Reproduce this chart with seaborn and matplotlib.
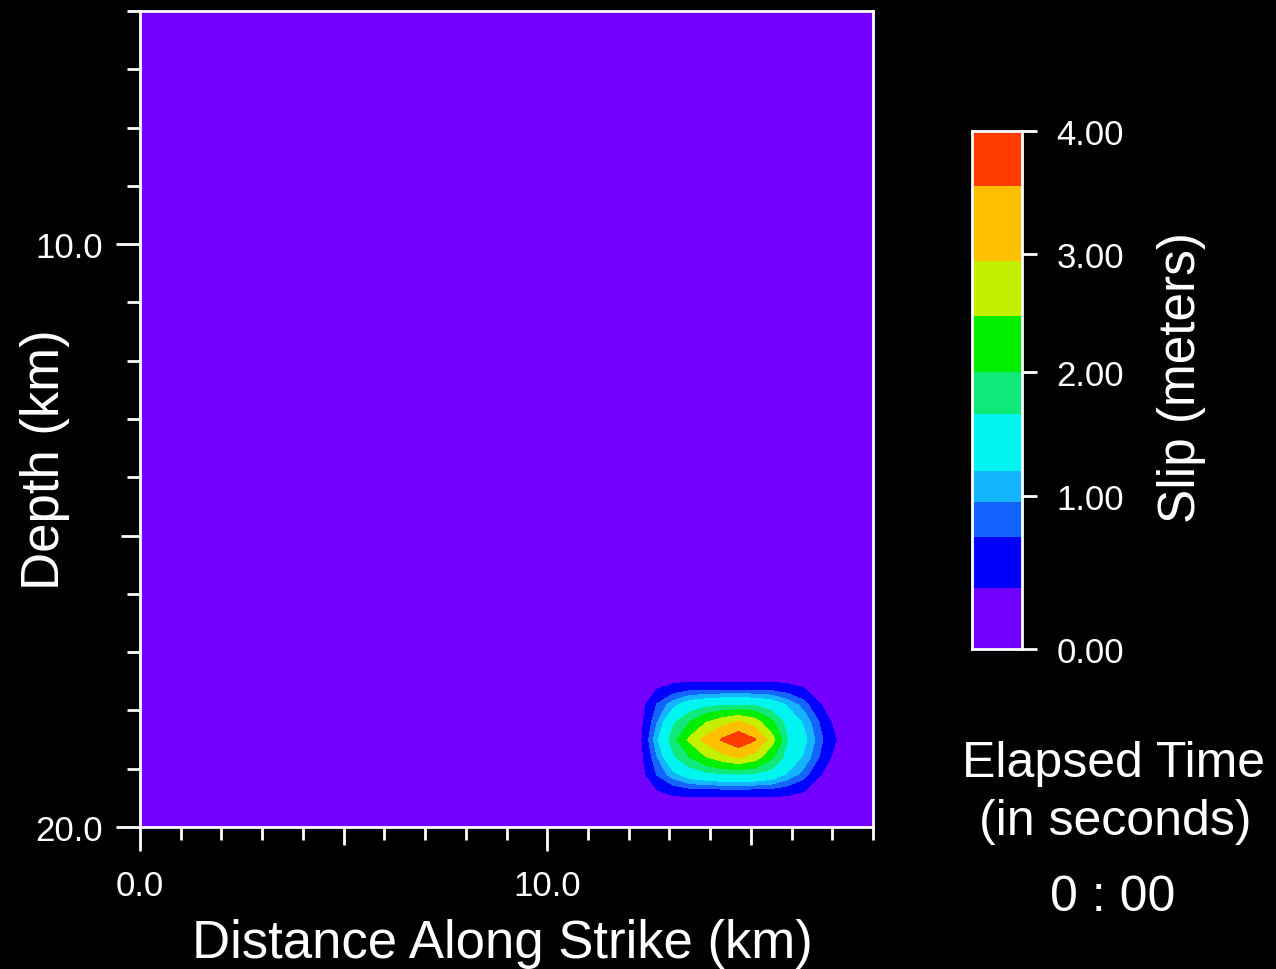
import numpy as np
import matplotlib
matplotlib.use("Agg")
import matplotlib.pyplot as plt
import seaborn as sns

# ---------------- data ----------------
strike_km = [0.0, 11.9, 12.3, 12.7, 13.1, 13.5, 13.9, 14.3, 14.7, 15.1,
             15.5, 15.9, 16.3, 16.7, 17.1, 17.5, 18.0]
depth_km = [6.0, 17.3, 17.6, 17.9, 18.2, 18.5, 18.8, 19.1, 19.4, 19.7, 20.0]

slip_m = [
    [0] * 17,
    [0] * 17,
    [0, 0, 0.05, 0.35, 0.50, 0.55, 0.55, 0.55, 0.55, 0.55, 0.55, 0.50, 0.38, 0.12, 0, 0, 0],
    [0, 0, 0.25, 0.75, 1.10, 1.40, 1.52, 1.60, 1.62, 1.58, 1.45, 1.15, 0.85, 0.42, 0.06, 0, 0],
    [0, 0, 0.30, 0.95, 1.60, 2.00, 2.45, 2.75, 3.00, 2.70, 2.10, 1.50, 1.15, 0.70, 0.25, 0, 0],
    [0, 0, 0.35, 1.15, 1.85, 2.56, 3.10, 3.62, 4.00, 3.60, 2.72, 1.65, 1.30, 0.80, 0.40, 0, 0],
    [0, 0, 0.30, 0.95, 1.60, 2.00, 2.45, 2.75, 3.00, 2.70, 2.10, 1.50, 1.15, 0.70, 0.25, 0, 0],
    [0, 0, 0.25, 0.75, 1.10, 1.40, 1.52, 1.60, 1.62, 1.58, 1.45, 1.15, 0.85, 0.42, 0.06, 0, 0],
    [0, 0, 0.05, 0.35, 0.50, 0.55, 0.55, 0.55, 0.55, 0.55, 0.55, 0.50, 0.38, 0.12, 0, 0, 0],
    [0] * 17,
    [0] * 17,
]

slip_levels = [0.0, 0.40, 0.73, 0.96, 1.20, 1.66, 2.00, 2.47, 2.94, 3.55, 4.00]
band_colors = ["#7300ff", "#0000ff", "#1464ff", "#14b4ff", "#00f5f0",
               "#10e87a", "#00ee00", "#c4f000", "#ffc000", "#ff3c00"]

cbar_ticks = [0, 1, 2, 3, 4]
cbar_labels = ["0.00", "1.00", "2.00", "3.00", "4.00"]
# where each colorbar tick sits along the bar (fraction of its height)
cbar_tick_frac = [0.0, 0.295, 0.535, 0.763, 1.0]

x_major = [0, 10]
x_labels = ["0.0", "10.0"]
y_major = [10, 20]
y_labels = ["10.0", "20.0"]

# ---------------- style ----------------
sns.set_theme(style="dark", rc={
    "figure.facecolor": "black",
    "axes.facecolor": "black",
    "axes.edgecolor": "white",
    "text.color": "white",
    "xtick.color": "white",
    "ytick.color": "white",
    "axes.labelcolor": "white",
})
plt.rcParams["font.family"] = ["Liberation Sans", "DejaVu Sans"]
narrow = ["Liberation Sans Narrow", "Liberation Sans", "DejaVu Sans"]

fig = plt.figure(figsize=(12.76, 9.70), dpi=100)
ax = fig.add_axes([140 / 1276, 142 / 970, 733 / 1276, 816 / 970])

ax.contourf(strike_km, depth_km, np.array(slip_m), levels=slip_levels,
            colors=band_colors)
ax.set_xlim(0, 18)
ax.set_ylim(20, 6)

for s in ax.spines.values():
    s.set_color("white")
    s.set_linewidth(2)

x_minor = [v for v in range(0, 19) if v not in x_major]
y_minor = [v for v in range(6, 21) if v not in y_major]
ax.set_xticks(x_major, x_labels, fontfamily=narrow, fontsize=25)
ax.set_yticks(y_major, y_labels, fontfamily=narrow, fontsize=25)
ax.set_xticks(x_minor, minor=True)
ax.set_yticks(y_minor, minor=True)
ax.tick_params(which="both", bottom=True, left=True, top=False, right=False)
ax.tick_params(which="major", direction="out", length=17, width=2, colors="white")
ax.tick_params(which="minor", direction="out", length=9.5, width=2, colors="white")
ax.tick_params(axis="x", which="major", pad=13)
ax.tick_params(axis="y", which="major", pad=10)
ax.grid(False)

# slightly longer ticks at 5 and 15 km
for loc, t in zip(x_minor, ax.xaxis.get_minor_ticks(len(x_minor))):
    if loc in (5, 15):
        t.tick1line.set_markersize(13)
for loc, t in zip(y_minor, ax.yaxis.get_minor_ticks(len(y_minor))):
    if loc == 15:
        t.tick1line.set_markersize(14)

ax.set_xlabel("Distance Along Strike (km)", fontsize=38)
ax.set_ylabel("Depth (km)", fontsize=38)
ax.xaxis.set_label_coords(0.494, -0.111)
ax.yaxis.set_label_coords(-0.096, 0.451)

# ---------------- colorbar ----------------
cax = fig.add_axes([972 / 1276, 320 / 970, 50 / 1276, 518 / 970])
ext_v = [-4] + cbar_ticks + [8]
ext_f = [-1.18] + cbar_tick_frac + [1.95]


def fwd(v):
    return np.interp(np.asarray(v, dtype=float), ext_v, ext_f)


def inv(f):
    return np.interp(np.asarray(f, dtype=float), ext_f, ext_v)


cax.set_yscale("function", functions=(fwd, inv))
lows = slip_levels[:-1]
highs = slip_levels[1:]
cax.bar([0.5] * len(lows), [h - l for l, h in zip(lows, highs)], bottom=lows,
        width=1.0, color=band_colors, linewidth=0)
cax.set_xlim(0, 1)
cax.set_ylim(0, 4)
cax.set_xticks([])
cax.yaxis.tick_right()
cax.set_yticks(cbar_ticks, cbar_labels, fontfamily=narrow, fontsize=25)
cax.yaxis.set_minor_locator(matplotlib.ticker.NullLocator())
cax.tick_params(axis="y", which="major", right=True, left=False, direction="out",
                length=11, width=2, pad=14, colors="white")
for s in cax.spines.values():
    s.set_color("white")
    s.set_linewidth(2)
cax.grid(False)

fig.text(1182 / 1276, 1 - 378 / 970, "Slip (meters)", rotation=90,
         ha="center", va="center", fontsize=37)

fig.text(1113 / 1276, 1 - 764 / 970, "Elapsed Time", ha="center", va="center", fontsize=36)
fig.text(1115 / 1276, 1 - 822 / 970, "(in seconds)", ha="center", va="center", fontsize=36)
fig.text(1113 / 1276, 1 - 898 / 970, "0 : 00", ha="center", va="center", fontsize=36)

fig.savefig("out.png", dpi=100, facecolor="black")
